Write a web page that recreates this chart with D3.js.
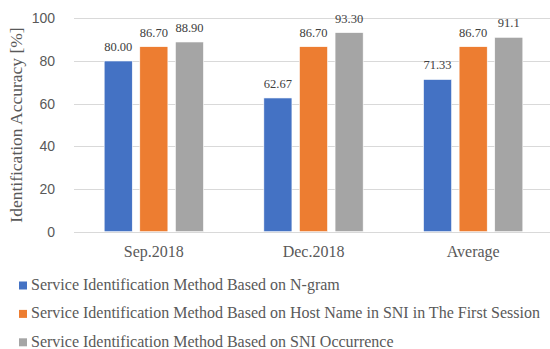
<!DOCTYPE html>
<html>
<head>
<meta charset="utf-8">
<script src="https://cdn.jsdelivr.net/npm/d3@7/dist/d3.min.js"></script>
<style>
  html, body { margin: 0; padding: 0; background: #fff; }
  svg { display: block; }
</style>
</head>
<body>
<svg id="chart" width="550" height="349"></svg>
<script>
// Periods along the x axis
const categories = ["Sep.2018", "Dec.2018", "Average"];

// Method names (legend entries)
const seriesNames = [
  "Service Identification Method Based on N-gram",
  "Service Identification Method Based on Host Name in SNI in The First Session",
  "Service Identification Method Based on SNI Occurrence"
];

// Accuracy per method, one value per period
const ngramValues = [80.00, 62.67, 71.33];
const hostNameValues = [86.70, 86.70, 86.70];
const sniOccurrenceValues = [88.90, 93.30, 91.1];

// Printed value labels
const ngramLabels = ["80.00", "62.67", "71.33"];
const hostNameLabels = ["86.70", "86.70", "86.70"];
const sniOccurrenceLabels = ["88.90", "93.30", "91.1"];

const yTicks = [0, 20, 40, 60, 80, 100];
const colors = ["#4472C4", "#ED7D31", "#A5A5A5"];

const seriesValues = [ngramValues, hostNameValues, sniOccurrenceValues];
const seriesLabels = [ngramLabels, hostNameLabels, sniOccurrenceLabels];

const svg = d3.select("#chart");

const x0 = d3.scaleBand().domain(categories).range([74, 553]).padding(0);
const groupInset = x0.bandwidth() * 0.189;
const x1 = d3.scaleBand().domain(d3.range(seriesNames.length))
  .range([groupInset, x0.bandwidth() - groupInset]).paddingInner(0.211);
const y = d3.scaleLinear().domain([0, 100]).range([231.7, 18.3]);

// Horizontal gridlines
svg.append("g").selectAll("line").data(yTicks).join("line")
  .attr("x1", 74).attr("x2", 553)
  .attr("y1", d => Math.round(y(d)) + 0.5).attr("y2", d => Math.round(y(d)) + 0.5)
  .attr("stroke", "#d9d9d9").attr("stroke-width", 1);

// Y axis tick labels
const yAxis = d3.axisLeft(y).tickValues(yTicks).tickSize(0).tickPadding(0);
const yg = svg.append("g").attr("transform", "translate(55,0)").call(yAxis);
yg.select(".domain").remove();
yg.selectAll("text")
  .attr("font-family", "'Liberation Sans', Arial, sans-serif")
  .attr("font-size", 14).attr("fill", "#595959");

// Category labels
const xAxis = d3.axisBottom(x0).tickSize(0).tickPadding(0);
const xg = svg.append("g").attr("transform", "translate(0,244)").call(xAxis);
xg.select(".domain").remove();
xg.selectAll("text")
  .attr("dy", "0.8em")
  .attr("font-family", "'Liberation Serif', 'Times New Roman', serif")
  .attr("font-size", 16).attr("fill", "#595959");

// Bars
const rows = [];
categories.forEach((c, ci) => {
  seriesValues.forEach((vals, si) => {
    rows.push({ cat: c, s: si, v: vals[ci], label: seriesLabels[si][ci] });
  });
});

svg.append("g").selectAll("rect").data(rows).join("rect")
  .attr("x", d => x0(d.cat) + x1(d.s))
  .attr("width", x1.bandwidth())
  .attr("y", d => y(d.v))
  .attr("height", d => y(0) - y(d.v))
  .attr("fill", d => colors[d.s])
  .attr("stroke", "#ffffff").attr("stroke-width", 0.6);

// Value labels above bars
svg.append("g").selectAll("text").data(rows).join("text")
  .attr("x", d => x0(d.cat) + x1(d.s) + x1.bandwidth() / 2)
  .attr("y", d => y(d.v) - 10)
  .attr("text-anchor", "middle")
  .attr("font-family", "'Liberation Serif', 'Times New Roman', serif")
  .attr("font-size", 12.5).attr("fill", "#404040")
  .text(d => d.label);

// Y axis title
svg.append("text")
  .attr("transform", "translate(22,125) rotate(-90)")
  .attr("text-anchor", "middle")
  .attr("font-family", "'Liberation Serif', 'Times New Roman', serif")
  .attr("font-size", 17.5).attr("fill", "#595959")
  .text("Identification Accuracy [%]");

// Legend
const legend = svg.append("g").selectAll("g").data(seriesNames).join("g")
  .attr("transform", (d, i) => `translate(19,${290 + i * 28.4})`);
legend.append("rect")
  .attr("x", 0).attr("y", -8.5).attr("width", 8).attr("height", 8)
  .attr("fill", (d, i) => colors[i]);
legend.append("text")
  .attr("x", 12).attr("y", 0)
  .attr("font-family", "'Liberation Serif', 'Times New Roman', serif")
  .attr("font-size", 16).attr("fill", "#595959")
  .text(d => d);
</script>
</body>
</html>
